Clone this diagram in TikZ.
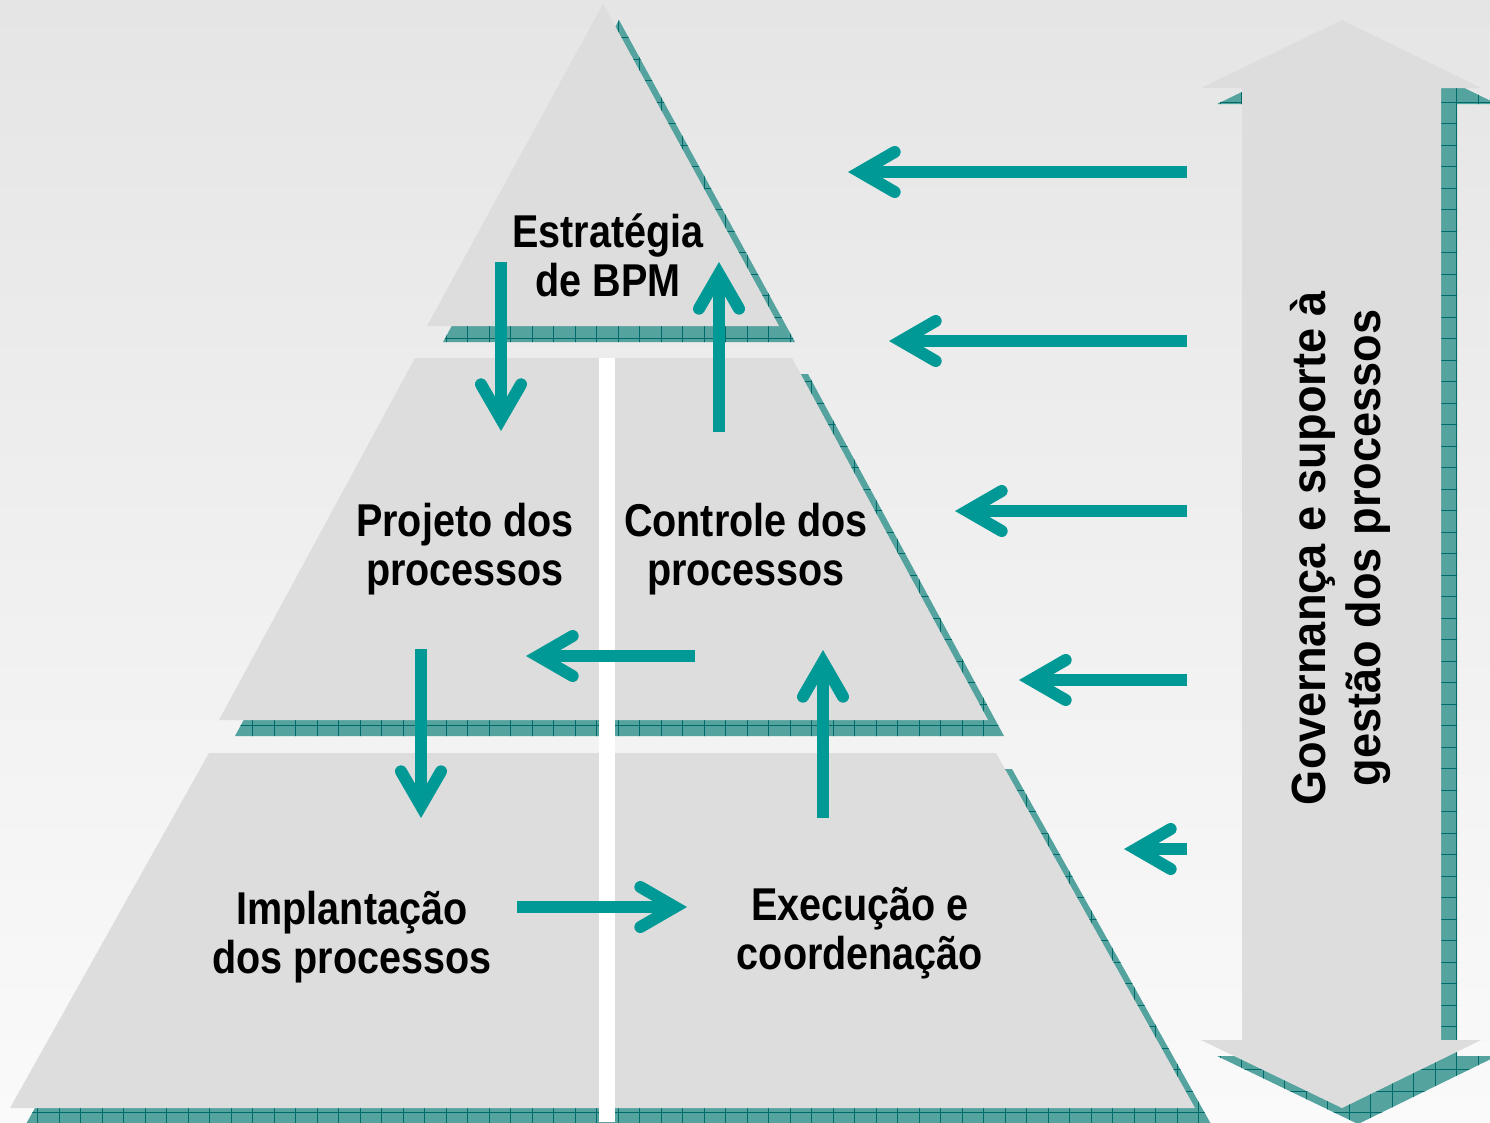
\documentclass[tikz,border=0pt]{standalone}
\usepackage{fontspec}
\usetikzlibrary{calc}
\newfontfamily\labfont[FakeStretch=0.86]{Liberation Sans}
\newfontfamily\rotfont[FakeStretch=0.94]{Liberation Sans}
\definecolor{bgtop}{RGB}{229,229,229}
\definecolor{bgbot}{RGB}{250,250,250}
\definecolor{pyr}{RGB}{221,221,221}
\definecolor{shd}{RGB}{84,163,159}
\definecolor{shdline}{RGB}{0,105,105}
\definecolor{tealarr}{RGB}{0,153,150}
\tikzset{
  shadowfill/.style={fill=shd},
  gridline/.style={draw=shdline, line width=0.9pt},
  block/.style={fill=pyr},
  tshaft/.style={draw=tealarr, line width=12pt, line cap=butt},
  thead/.style={draw=tealarr, line width=12pt, line cap=round, line join=miter, miter limit=10},
  lab/.style={font=\labfont\bfseries\fontsize{46}{49}\selectfont, align=center, inner sep=0pt, text=black},
  rotlab/.style={font=\rotfont\bfseries\fontsize{48}{55}\selectfont, align=center, inner sep=0pt, text=black, rotate=90},
  pTop/.style={insert path={(603,4) -- (779,326) -- (427,326) -- cycle}},
  pMid/.style={insert path={(415,358) -- (792,358) -- (988,720) -- (219,720) -- cycle}},
  pBot/.style={insert path={(209,753) -- (996,753) -- (1195,1108) -- (10,1108) -- cycle}},
  pDA/.style={insert path={(1342,20) -- (1481,88) -- (1441,88) -- (1441,1040) -- (1481,1040) -- (1342,1108) -- (1201,1040) -- (1242,1040) -- (1242,88) -- (1201,88) -- cycle}},
}
\newcommand\tarrow[2]{%
  \coordinate (#2c) at ($(#2)!12pt!(#1)$);
  \draw[tshaft] (#1) -- (#2c);
  \draw[thead] ($(#2c)!40pt!30:(#1)$) -- (#2c) -- ($(#2c)!40pt!-30:(#1)$);}
\begin{document}
\begin{tikzpicture}[x=1pt,y=-1pt]
\useasboundingbox (0,0) rectangle (1490,1122);
\clip (0,0) rectangle (1490,1122);
\shade[top color=bgtop,bottom color=bgbot] (0,0) rectangle (1490,1122);

% shadows
\begin{scope}[shift={(16,16)}]
  \fill[shadowfill, pTop, pMid, pBot, pDA];
  \begin{scope}
    \clip[pTop, pMid, pBot, pDA];
    \draw[gridline, step=21.5pt] (-20,-20) grid (1500,1140);
  \end{scope}
\end{scope}

% faces
\fill[block, pTop, pMid, pBot, pDA];
\fill[white] (599,358) rectangle (615,1122);

% arrow end points
\coordinate (r1a) at (1187,172); \coordinate (r1b) at (848,172);
\coordinate (r2a) at (1187,341); \coordinate (r2b) at (889,341);
\coordinate (r3a) at (1187,511); \coordinate (r3b) at (955,511);
\coordinate (r4a) at (1187,680); \coordinate (r4b) at (1019,680);
\coordinate (r5a) at (1187,849); \coordinate (r5b) at (1124,849);
\coordinate (d1a) at (501,262);  \coordinate (d1b) at (501,431);
\coordinate (u1a) at (719,432);  \coordinate (u1b) at (719,262);
\coordinate (l1a) at (695,656);  \coordinate (l1b) at (526,656);
\coordinate (d2a) at (421,649);  \coordinate (d2b) at (421,818);
\coordinate (u2a) at (823,818);  \coordinate (u2b) at (823,650);
\coordinate (rra) at (517,907);  \coordinate (rrb) at (687,907);

\tarrow{r1a}{r1b}
\tarrow{r2a}{r2b}
\tarrow{r3a}{r3b}
\tarrow{r4a}{r4b}
\tarrow{r5a}{r5b}
\tarrow{d1a}{d1b}
\tarrow{u1a}{u1b}
\tarrow{l1a}{l1b}
\tarrow{d2a}{d2b}
\tarrow{u2a}{u2b}
\tarrow{rra}{rrb}

% labels
\node[lab] (estr) at (608,255) {Estratégia\\de BPM};
\node[lab] (proj) at (465,549) {Projeto dos\\processos};
\node[lab] (ctrl) at (746,549) {Controle dos\\processos};
\node[lab] (impl) at (352,937) {Implantação\\dos processos};
\node[lab] (exec) at (860,933) {Execução e\\coordenação};
\node[rotlab] (gov) at (1340,548) {Governança e suporte à\\gestão dos processos};
\end{tikzpicture}
\end{document}
